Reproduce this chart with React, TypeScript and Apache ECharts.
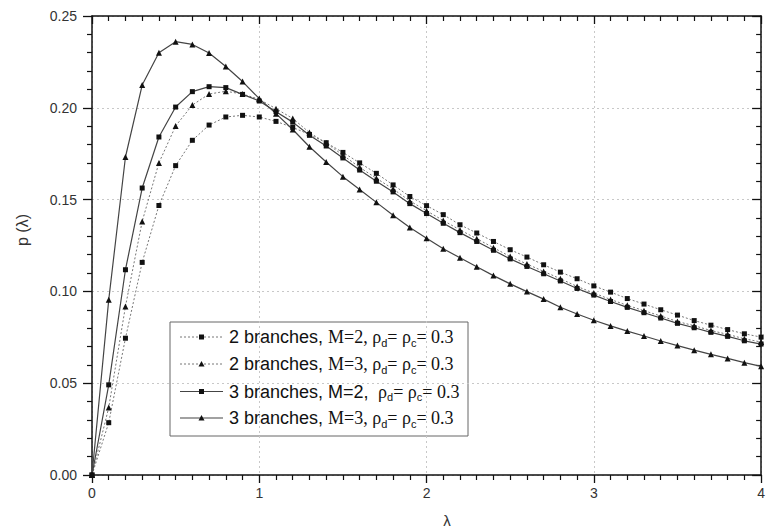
import React, { useEffect, useRef } from "react";
import * as echarts from "echarts";

const lambdaValues = [
  0, 0.1, 0.2, 0.3, 0.4, 0.5, 0.6, 0.7, 0.8, 0.9, 1.0, 1.1, 1.2, 1.3, 1.4, 1.5, 1.6, 1.7, 1.8, 1.9, 2.0,
  2.1, 2.2, 2.3, 2.4, 2.5, 2.6, 2.7, 2.8, 2.9, 3.0, 3.1, 3.2, 3.3, 3.4, 3.5, 3.6, 3.7, 3.8, 3.9, 4.0,
];

const twoBranchesM2 = [
  0, 0.0285, 0.0745, 0.1158, 0.1468, 0.1685, 0.1823, 0.1906, 0.195, 0.1959, 0.195, 0.1926, 0.1893, 0.1855,
  0.181, 0.1757, 0.17, 0.1643, 0.158, 0.1517, 0.1467, 0.1418, 0.1363, 0.1318, 0.1272, 0.1227, 0.1187,
  0.1145, 0.1105, 0.1069, 0.103, 0.0996, 0.0961, 0.0931, 0.09, 0.0871, 0.0841, 0.0816, 0.0792, 0.0769, 0.0751,
];

const twoBranchesM3 = [
  0, 0.0367, 0.0918, 0.1381, 0.17, 0.1901, 0.2015, 0.2075, 0.209, 0.2075, 0.2046, 0.1995, 0.1942, 0.1865,
  0.1808, 0.1742, 0.1676, 0.1616, 0.1558, 0.1493, 0.1439, 0.1386, 0.1335, 0.1287, 0.1238, 0.119, 0.1149,
  0.1109, 0.1069, 0.1027, 0.0991, 0.0956, 0.0924, 0.0895, 0.0866, 0.0836, 0.0813, 0.0787, 0.0766, 0.0742, 0.0724,
];

const threeBranchesM2 = [
  0, 0.0491, 0.1118, 0.1563, 0.1841, 0.2004, 0.2088, 0.2115, 0.211, 0.2073, 0.2037, 0.1979, 0.1922, 0.185,
  0.1792, 0.1727, 0.1661, 0.16, 0.1542, 0.1478, 0.1424, 0.1371, 0.132, 0.1272, 0.1224, 0.1177, 0.1136,
  0.1096, 0.1057, 0.1016, 0.098, 0.0945, 0.0913, 0.0884, 0.0855, 0.0826, 0.0802, 0.0777, 0.0755, 0.0731, 0.0713,
];

const threeBranchesM3 = [
  0, 0.0954, 0.1732, 0.2124, 0.23, 0.236, 0.2345, 0.2298, 0.2225, 0.2143, 0.205, 0.1968, 0.1882, 0.1788,
  0.1705, 0.1625, 0.1555, 0.1485, 0.1415, 0.1348, 0.129, 0.1232, 0.1183, 0.1134, 0.1086, 0.1041, 0.0999,
  0.0958, 0.0914, 0.0877, 0.0843, 0.0812, 0.0784, 0.0757, 0.073, 0.0705, 0.068, 0.0657, 0.0635, 0.0612, 0.0592,
];

const seriesNames = [
  "2 branches, M=2, ρd= ρc= 0.3",
  "2 branches, M=3, ρd= ρc= 0.3",
  "3 branches, M=2, ρd= ρc= 0.3",
  "3 branches, M=3, ρd= ρc= 0.3",
];

const legendRichLabels = [
  "{sans|2 branches, }{ser|M=2, ρ}{sub|d}{ser|= ρ}{sub|c}{ser|= 0.3}",
  "{sans|2 branches, }{ser|M=3, ρ}{sub|d}{ser|= ρ}{sub|c}{ser|= 0.3}",
  "{sans|3 branches, M=2, }{ser| ρ}{sub|d}{ser|= ρ}{sub|c}{ser|= 0.3}",
  "{sans|3 branches, }{ser|M=3, ρ}{sub|d}{ser|= ρ}{sub|c}{ser|= 0.3}",
];

const xTicks = ["0", "1", "2", "3", "4"];

export default function App() {
  const ref = useRef<HTMLDivElement>(null);

  useEffect(() => {
    if (!ref.current) return;
    const chart = echarts.init(ref.current, null, { renderer: "svg" });

    const pairs = (ys: number[]) => lambdaValues.map((x, i) => [x, ys[i]]);
    const dottedStyle = { color: "#777", width: 1, type: [2, 2] };
    const solidStyle = { color: "#444", width: 1.2, type: "solid" };
    const mk = (idx: number, ys: number[], symbol: string, size: number, dotted: boolean) => ({
      name: seriesNames[idx],
      type: "line",
      data: pairs(ys),
      symbol,
      symbolSize: size,
      showSymbol: true,
      itemStyle: { color: "#111" },
      lineStyle: dotted ? dottedStyle : solidStyle,
      z: 3,
    });

    const axisFont = { fontFamily: "Liberation Sans", fontSize: 14, color: "#333" };

    // legend drawn as graphic (box, sample lines, markers, rich text)
    const legendLeft = 170;
    const legendTop = 322;
    const legendW = 298;
    const legendH = 114;
    const rowY = [15, 42, 69.5, 96];
    const legendSpecs = [
      { dotted: true, tri: false },
      { dotted: true, tri: true },
      { dotted: false, tri: false },
      { dotted: false, tri: true },
    ];
    const legendChildren: any[] = [
      {
        type: "rect",
        shape: { x: 0, y: 0, width: legendW, height: legendH },
        style: { fill: "#fff", stroke: "#666", lineWidth: 1 },
      },
    ];
    legendSpecs.forEach((sp, i) => {
      const y = rowY[i];
      legendChildren.push({
        type: "line",
        shape: { x1: 10, y1: y, x2: 53, y2: y },
        style: sp.dotted
          ? { stroke: "#777", lineWidth: 1, lineDash: [2, 2] }
          : { stroke: "#444", lineWidth: 1.2 },
      });
      if (sp.tri) {
        legendChildren.push({
          type: "polygon",
          shape: { points: [[31.5, y - 3], [34.5, y + 2.5], [28.5, y + 2.5]] },
          style: { fill: "#111" },
        });
      } else {
        legendChildren.push({
          type: "rect",
          shape: { x: 29, y: y - 2.5, width: 5, height: 5 },
          style: { fill: "#111" },
        });
      }
      legendChildren.push({
        type: "text",
        x: 59,
        y,
        style: {
          text: legendRichLabels[i],
          verticalAlign: "middle",
          align: "left",
          fill: "#111",
          rich: {
            sans: { fontFamily: "Liberation Sans", fontSize: 18, lineHeight: 22, fill: "#111" },
            ser: { fontFamily: "Liberation Serif", fontSize: 18, lineHeight: 22, fill: "#111" },
            sub: {
              fontFamily: "Liberation Sans",
              fontSize: 11,
              lineHeight: 11,
              verticalAlign: "bottom",
              fill: "#111",
            },
          },
        },
      });
    });

    chart.setOption({
      animation: false,
      backgroundColor: "#fff",
      grid: { left: 92, right: 1, top: 16, bottom: 56, containLabel: false },
      xAxis: [
        {
          type: "value",
          min: 0,
          max: 4,
          interval: 1,
          position: "bottom",
          axisLine: { show: true, onZero: false, lineStyle: { color: "#111", width: 1.5 } },
          axisTick: { show: true, inside: false, length: 8, lineStyle: { color: "#111", width: 1.3 } },
          minorTick: { show: true, splitNumber: 10, length: 5, lineStyle: { color: "#111", width: 1.2 } },
          axisLabel: {
            ...axisFont,
            margin: 11,
            formatter: (v: number) => xTicks[Math.round(v)] ?? String(v),
          },
          splitLine: { show: true, lineStyle: { color: "#c8c8c8", type: [2, 3], width: 1 } },
        },
        {
          type: "value",
          min: 0,
          max: 4,
          interval: 1,
          position: "top",
          axisLine: { show: true, onZero: false, lineStyle: { color: "#111", width: 1.5 } },
          axisTick: { show: true, inside: true, length: 8, lineStyle: { color: "#111", width: 1.3 } },
          minorTick: { show: true, splitNumber: 10, length: 5, lineStyle: { color: "#111", width: 1.2 } },
          axisLabel: { show: false },
          splitLine: { show: false },
        },
      ],
      yAxis: [
        {
          type: "value",
          min: 0,
          max: 0.25,
          interval: 0.05,
          position: "left",
          axisLine: { show: true, onZero: false, lineStyle: { color: "#111", width: 1.5 } },
          axisTick: { show: true, inside: false, length: 9, lineStyle: { color: "#111", width: 1.3 } },
          minorTick: { show: true, splitNumber: 5, length: 5, lineStyle: { color: "#111", width: 1.2 } },
          axisLabel: { ...axisFont, margin: 15, formatter: (v: number) => v.toFixed(2) },
          splitLine: { show: true, lineStyle: { color: "#c8c8c8", type: [2, 3], width: 1 } },
        },
        {
          type: "value",
          min: 0,
          max: 0.25,
          interval: 0.05,
          position: "right",
          axisLine: { show: true, onZero: false, lineStyle: { color: "#111", width: 1.5 } },
          axisTick: { show: true, inside: true, length: 9, lineStyle: { color: "#111", width: 1.3 } },
          minorTick: { show: true, splitNumber: 5, length: 5, lineStyle: { color: "#111", width: 1.2 } },
          axisLabel: { show: false },
          splitLine: { show: false },
        },
      ],
      legend: { show: false, data: seriesNames },
      graphic: [
        {
          type: "text",
          x: 22,
          y: 230,
          rotation: Math.PI / 2,
          style: {
            text: "p (λ)",
            fontFamily: "Liberation Sans",
            fontSize: 16,
            fill: "#333",
            align: "center",
            verticalAlign: "middle",
          },
        },
        {
          type: "text",
          x: 447,
          y: 520,
          style: {
            text: "λ",
            fontFamily: "Liberation Sans",
            fontSize: 15,
            fill: "#333",
            align: "center",
            verticalAlign: "middle",
          },
        },
        {
          type: "group",
          x: legendLeft,
          y: legendTop,
          z: 100,
          children: legendChildren,
        },
      ],
      series: [
        mk(0, twoBranchesM2, "rect", 5, true),
        mk(1, twoBranchesM3, "triangle", 6, true),
        mk(2, threeBranchesM2, "rect", 5, false),
        mk(3, threeBranchesM3, "triangle", 6, false),
      ],
    });

    return () => {
      chart.dispose();
    };
  }, []);

  return (
    <div
      ref={ref}
      style={{ position: "absolute", left: 0, top: 0, width: 768, height: 531, background: "#fff" }}
    />
  );
}
